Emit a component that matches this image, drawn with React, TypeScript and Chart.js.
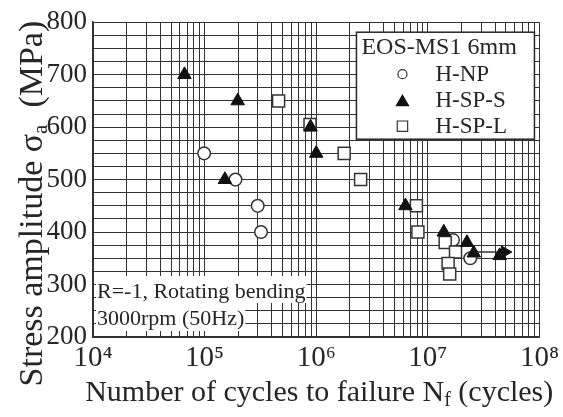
import React, { useEffect, useRef } from 'react';
import { Chart, registerables } from 'chart.js';

Chart.register(...registerables);

// ---------- data ----------
const seriesLabels = ['H-NP', 'H-SP-S', 'H-SP-L'];
const legendTitle = 'EOS-MS1 6mm';

const hnpCycles = [9.9e4, 1.89e5, 2.99e5, 3.2e5, 1.68e7, 2.4e7];
const hnpStress = [550, 500, 450, 400, 385, 350];

const spsCycles = [6.6e4, 1.98e5, 1.52e5, 8.9e5, 1.0e6, 6.3e6, 1.39e7, 2.24e7, 2.58e7, 4.4e7];
const spsStress = [700, 650, 500, 600, 550, 450, 400, 380, 360, 355];

const splCycles = [4.6e5, 8.8e5, 1.78e6, 2.5e6, 7.9e6, 8.15e6, 1.43e7, 1.77e7, 1.52e7, 1.57e7];
const splStress = [650, 605, 550, 500, 450, 400, 380, 362, 340, 320];

// run-out arrow (H-SP-S)
const runoutCycles = [2.6e7, 4.9e7];
const runoutStress = [362, 362];

// axes
const xDecades = [4, 5, 6, 7, 8];
const xMinorFactors = [2, 3, 4, 5, 6, 7, 8, 9];
const yMin = 200;
const yMax = 800;
const yGridStep = 25;
const yLabelStep = 100;
const supDigits: Record<string, string> = { '4': '⁴', '5': '⁵', '6': '⁶', '7': '⁷', '8': '⁸' };

const noteLines = ['R=-1, Rotating bending', '3000rpm (50Hz)'];

const FONT = "'Liberation Serif', 'DejaVu Serif', serif";
const INK = '#262626';
const GRID = '#333333';

const toPts = (xs: number[], ys: number[]) => xs.map((x, i) => ({ x, y: ys[i] }));

const xTickValues: number[] = [];
xDecades.forEach((d, i) => {
  xTickValues.push(Math.pow(10, d));
  if (i < xDecades.length - 1) xMinorFactors.forEach((f) => xTickValues.push(f * Math.pow(10, d)));
});

function symbol(ctx: CanvasRenderingContext2D, style: string, x: number, y: number, r: number) {
  ctx.beginPath();
  if (style === 'circle') {
    ctx.arc(x, y, r, 0, Math.PI * 2);
  } else if (style === 'triangle') {
    for (let k = 0; k < 3; k++) {
      const a = (k * 2 * Math.PI) / 3;
      const px = x + Math.sin(a) * r;
      const py = y - Math.cos(a) * r;
      if (k === 0) ctx.moveTo(px, py);
      else ctx.lineTo(px, py);
    }
    ctx.closePath();
  } else {
    ctx.rect(x - r, y - r, 2 * r, 2 * r);
  }
}

function drawRich(
  ctx: CanvasRenderingContext2D,
  parts: { t: string; size: number; dy: number }[],
  cx: number,
  baseY: number
) {
  let total = 0;
  parts.forEach((p) => {
    ctx.font = `${p.size}px ${FONT}`;
    total += ctx.measureText(p.t).width;
  });
  let x = cx - total / 2;
  parts.forEach((p) => {
    ctx.font = `${p.size}px ${FONT}`;
    ctx.fillText(p.t, x, baseY + p.dy);
    x += ctx.measureText(p.t).width;
  });
}

const decorPlugin = {
  id: 'decor',
  beforeDatasetsDraw(chart: any) {
    const { ctx, chartArea } = chart;
    ctx.save();
    // annotation note with white background per line
    ctx.font = `22px ${FONT}`;
    ctx.textBaseline = 'middle';
    ctx.textAlign = 'left';
    const left = chartArea.left + 3;
    const lineH = 27;
    const top = chartArea.bottom - 61;
    noteLines.forEach((line, i) => {
      const w = ctx.measureText(line).width;
      ctx.fillStyle = '#ffffff';
      ctx.fillRect(left, top + i * lineH, w + 2, lineH + (i === noteLines.length - 1 ? 1 : 0));
      ctx.fillStyle = INK;
      ctx.fillText(line, left + 1, top + i * lineH + lineH / 2 + 3);
    });
    ctx.restore();
  },
  afterDraw(chart: any) {
    const { ctx, chartArea } = chart;
    ctx.save();
    ctx.fillStyle = INK;
    ctx.textBaseline = 'alphabetic';
    ctx.textAlign = 'left';

    // x-axis title
    drawRich(
      ctx,
      [
        { t: 'Number of cycles to failure N', size: 30, dy: 0 },
        { t: 'f', size: 20, dy: 5 },
        { t: ' (cycles)', size: 30, dy: 0 },
      ],
      (chartArea.left + chartArea.right) / 2 + 3,
      401
    );

    // y-axis title (rotated)
    ctx.save();
    ctx.translate(42, (chartArea.top + chartArea.bottom) / 2 + 24);
    ctx.rotate(-Math.PI / 2);
    drawRich(
      ctx,
      [
        { t: 'Stress amplitude σ', size: 34, dy: 0 },
        { t: 'a', size: 21, dy: 5 },
        { t: '  (MPa)', size: 34, dy: 0 },
      ],
      0,
      0
    );
    ctx.restore();

    // legend box
    const bw = 178;
    const bh = 107;
    const bx = chartArea.right - 5 - bw;
    const by = chartArea.top + 10;
    ctx.fillStyle = '#ffffff';
    ctx.fillRect(bx, by, bw, bh);
    ctx.strokeStyle = INK;
    ctx.lineWidth = 1.5;
    ctx.strokeRect(bx, by, bw, bh);

    ctx.fillStyle = INK;
    ctx.textBaseline = 'middle';
    ctx.font = `24px ${FONT}`;
    ctx.fillText(legendTitle, bx + 5, by + 16);

    const order = [3, 0, 2]; // dataset indices for H-NP, H-SP-S, H-SP-L
    const sizes = [4.5, 7, 5.2];
    order.forEach((di, k) => {
      const ds = chart.data.datasets[di];
      const yy = by + 42 + k * 26;
      const sx = bx + 46;
      let sy = yy;
      if (ds.pointStyle === 'triangle') sy += 2;
      symbol(ctx, ds.pointStyle, sx, sy, sizes[k]);
      ctx.fillStyle = ds.pointBackgroundColor;
      ctx.fill();
      ctx.lineWidth = 1.2;
      ctx.strokeStyle = ds.pointBorderColor;
      ctx.stroke();
      ctx.fillStyle = INK;
      ctx.font = `23px ${FONT}`;
      ctx.fillText(ds.label, bx + 79, yy + 1);
    });
    ctx.restore();
  },
};

export default function App() {
  const ref = useRef<HTMLCanvasElement | null>(null);

  useEffect(() => {
    if (!ref.current) return;
    const chart = new Chart(ref.current, {
      type: 'scatter',
      data: {
        datasets: [
          {
            label: seriesLabels[1],
            data: toPts(spsCycles, spsStress),
            pointStyle: 'triangle',
            pointRadius: 7.8,
            pointBackgroundColor: '#111111',
            pointBorderColor: '#111111',
            pointBorderWidth: 1,
            order: 0,
          } as any,
          {
            label: '',
            data: toPts(runoutCycles, runoutStress),
            showLine: true,
            borderColor: '#333333',
            borderWidth: 1.3,
            pointStyle: 'triangle',
            pointRotation: 90,
            pointRadius: [0, 7],
            pointBackgroundColor: '#111111',
            pointBorderColor: '#111111',
            pointBorderWidth: 1,
            order: 0,
          } as any,
          {
            label: seriesLabels[2],
            data: toPts(splCycles, splStress),
            pointStyle: 'rect',
            pointRadius: 8.5,
            pointBackgroundColor: '#ffffff',
            pointBorderColor: '#333333',
            pointBorderWidth: 1.5,
            order: 1,
          } as any,
          {
            label: seriesLabels[0],
            data: toPts(hnpCycles, hnpStress),
            pointStyle: 'circle',
            pointRadius: 6.3,
            pointBackgroundColor: '#ffffff',
            pointBorderColor: '#333333',
            pointBorderWidth: 1.5,
            order: 2,
          } as any,
        ],
      },
      options: {
        animation: false,
        responsive: false,
        devicePixelRatio: 1,
        layout: { padding: { left: 0, right: 22, top: 17, bottom: 0 } },
        plugins: {
          legend: { display: false },
          tooltip: { enabled: false },
        },
        scales: {
          x: {
            type: 'logarithmic',
            min: Math.pow(10, xDecades[0]),
            max: Math.pow(10, xDecades[xDecades.length - 1]),
            afterBuildTicks: (s: any) => {
              s.ticks = xTickValues.map((v) => ({ value: v }));
            },
            afterFit: (s: any) => {
              s.height = 80;
            },
            grid: { color: GRID, lineWidth: 1, drawTicks: false },
            border: { color: GRID, width: 1.5 },
            ticks: {
              autoSkip: false,
              maxRotation: 0,
              minRotation: 0,
              padding: 4,
              color: INK,
              font: { family: FONT, size: 29 },
              callback: (v: any) => {
                const e = Math.log10(Number(v));
                if (Math.abs(e - Math.round(e)) < 1e-9) {
                  return '10' + supDigits[String(Math.round(e))];
                }
                return '';
              },
            },
          },
          y: {
            type: 'linear',
            min: yMin,
            max: yMax,
            afterFit: (s: any) => {
              s.width = 93;
            },
            grid: { color: GRID, lineWidth: 1, drawTicks: false },
            border: { color: GRID, width: 1.5 },
            ticks: {
              stepSize: yGridStep,
              autoSkip: false,
              padding: 6,
              color: INK,
              font: { family: FONT, size: 27 },
              callback: (v: any) => (Number(v) % yLabelStep === 0 ? String(v) : ''),
            },
          },
        },
      } as any,
      plugins: [decorPlugin],
    });
    return () => chart.destroy();
  }, []);

  return (
    <div style={{ position: 'absolute', left: 0, top: 0, width: 563, height: 417, background: '#ffffff' }}>
      <canvas ref={ref} width={563} height={417} style={{ width: 563, height: 417, display: 'block' }} />
    </div>
  );
}
